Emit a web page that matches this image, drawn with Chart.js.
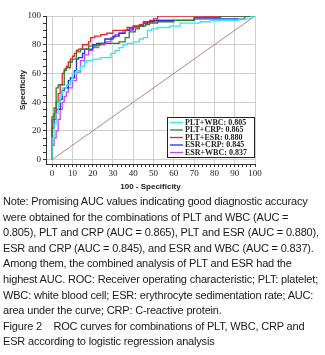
<!DOCTYPE html>
<html>
<head>
<meta charset="utf-8">
<script src="https://cdn.jsdelivr.net/npm/chart.js"></script>
<style>
  html, body { margin: 0; padding: 0; background: #fff; }
  body { width: 325px; height: 355px; position: relative; overflow: hidden; }
  #roc { position: absolute; left: 0; top: 0; }
  .note {
    position: absolute; left: 3px; top: 194px;
    font-family: 'Liberation Sans', Arial, sans-serif;
    font-size: 11px; line-height: 15.6px; color: #1a1a1a;
    white-space: pre;
  }
</style>
</head>
<body>
<canvas id="roc" width="325" height="195"></canvas>
<div class="note" id="note"></div>
<script>
// ROC curves (x = 100 - specificity, y = sensitivity)
const seriesNames = ['PLT+WBC', 'PLT+CRP', 'PLT+ESR', 'ESR+CRP', 'ESR+WBC'];
const aucValues = ['0.805', '0.865', '0.880', '0.845', '0.837'];
const seriesColors = ['#3fe3e6', '#2f7f2f', '#e8232b', '#2a2ae0', '#c846f2'];

const pltWbcX = [0, 0, 1, 2, 3, 4, 5, 7, 9, 10, 12, 14, 16, 17, 20, 24, 29, 31, 33, 35, 37, 40, 43, 45, 47, 49, 52, 58, 63, 73, 78, 92, 98, 100];
const pltWbcY = [0, 8, 15, 25, 32, 40, 45, 50, 52, 55, 60, 62, 65, 68, 69, 70, 71, 74, 76, 78, 80, 81, 82, 84, 85, 90, 91, 92, 93, 95, 96, 97, 98, 100];

const pltCrpX = [0, 0, 1, 2, 3, 6, 7, 9, 10, 12, 14, 18, 22, 24, 33, 36, 38, 41, 43, 46, 48, 52, 60, 70, 83, 98, 100];
const pltCrpY = [0, 20, 30, 36, 50, 52, 62, 64, 68, 70, 75, 77, 79, 80, 81, 82, 85, 89, 91, 93, 94, 95, 96, 97, 99, 100, 100];

const pltEsrX = [0, 0, 1, 2, 3, 4, 5, 6, 7, 8, 9, 10, 11, 12, 13, 15, 18, 19, 21, 24, 27, 30, 37, 40, 43, 45, 48, 50, 52, 78, 100];
const pltEsrY = [0, 15, 28, 32, 40, 46, 52, 60, 63, 65, 68, 70, 72, 74, 76, 77, 80, 82, 85, 86, 87, 88, 90, 92, 93, 94, 96, 97, 98, 100, 100];

const esrCrpX = [0, 0, 1, 2, 4, 5, 6, 8, 9, 11, 12, 13, 15, 16, 20, 22, 26, 30, 33, 36, 38, 40, 45, 47, 50, 70, 95, 97, 100];
const esrCrpY = [0, 10, 22, 28, 35, 42, 48, 50, 55, 57, 62, 70, 71, 74, 77, 80, 81, 84, 86, 88, 90, 91, 93, 95, 96, 97, 98, 100, 100];

const esrWbcX = [0, 0, 1, 2, 3, 4, 5, 6, 7, 8, 10, 12, 14, 16, 18, 20, 23, 26, 29, 31, 33, 35, 40, 43, 45, 48, 52, 70, 75, 78, 100];
const esrWbcY = [0, 5, 10, 15, 20, 28, 35, 40, 44, 47, 50, 55, 61, 69, 73, 76, 78, 80, 82, 85, 87, 88, 90, 92, 93, 95, 96, 97, 99, 100, 100];

const xTickValues = [];
for (let v = 0; v <= 100; v += 2) xTickValues.push(v);
const yTickValues = [];
for (let v = 0; v <= 100; v += 5) yTickValues.push(v);

const noteLines = [
  'Note: Promising AUC values indicating good diagnostic accuracy',
  'were obtained for the combinations of PLT and WBC (AUC =',
  '0.805), PLT and CRP (AUC = 0.865), PLT and ESR (AUC = 0.880),',
  'ESR and CRP (AUC = 0.845), and ESR and WBC (AUC = 0.837).',
  'Among them, the combined analysis of PLT and ESR had the',
  'highest AUC. ROC: Receiver operating characteristic; PLT: platelet;',
  'WBC: white blood cell; ESR: erythrocyte sedimentation rate; AUC:',
  'area under the curve; CRP: C-reactive protein.',
  'Figure 2    ROC curves for combinations of PLT, WBC, CRP and',
  'ESR according to logistic regression analysis'
];

// the printed note is set tighter than plain Arial; squeeze it to the
// width of its longest line in the figure (~315px)
const note = document.getElementById('note');
note.textContent = noteLines.join('\n');
const widest = noteLines[5];
const probe = document.createElement('span');
probe.style.cssText = 'position:absolute;visibility:hidden;white-space:pre;font:11px "Liberation Sans", Arial, sans-serif';
probe.textContent = widest;
document.body.appendChild(probe);
const spacing = (315 - probe.getBoundingClientRect().width) / widest.length;
probe.remove();
note.style.letterSpacing = spacing.toFixed(3) + 'px';

const toPoints = (xs, ys) => xs.map((x, i) => ({ x: x, y: ys[i] }));
const curveXs = [pltWbcX, pltCrpX, pltEsrX, esrCrpX, esrWbcX];
const curveYs = [pltWbcY, pltCrpY, pltEsrY, esrCrpY, esrWbcY];

const datasets = seriesNames.map((name, i) => ({
  label: name + ': ' + aucValues[i],
  data: toPoints(curveXs[i], curveYs[i]),
  borderColor: seriesColors[i],
  borderWidth: 1.3,
  pointRadius: 0,
  stepped: 'after',
  fill: false
}));
datasets.push({
  label: 'reference',
  data: [{ x: 0, y: 0 }, { x: 100, y: 100 }],
  borderColor: '#b88383',
  borderWidth: 1,
  pointRadius: 0
});

// legend box in the lower right corner of the plot
const boxLegend = {
  id: 'boxLegend',
  afterDatasetsDraw(chart) {
    const ctx = chart.ctx;
    const area = chart.chartArea;
    const w = 87, h = 40;
    const left = area.right - w - 1;
    const top = area.bottom - h - 7;
    ctx.save();
    ctx.fillStyle = '#fff';
    ctx.fillRect(left, top, w, h);
    ctx.strokeStyle = '#222';
    ctx.lineWidth = 1;
    ctx.strokeRect(left + 0.5, top + 0.5, w, h);
    ctx.font = 'bold 8px "Liberation Serif", serif';
    ctx.textBaseline = 'middle';
    seriesNames.forEach((name, i) => {
      const y = top + 5.5 + i * 7.5;
      ctx.strokeStyle = seriesColors[i];
      ctx.lineWidth = 1.3;
      ctx.beginPath();
      ctx.moveTo(left + 3, y);
      ctx.lineTo(left + 16, y);
      ctx.stroke();
      ctx.fillStyle = '#222';
      ctx.fillText(name + ': ' + aucValues[i], left + 18, y);
    });
    ctx.restore();
  }
};

const tickFont = { family: '"Liberation Serif", serif', size: 9 };
const titleFont = { family: '"Liberation Sans", Arial, sans-serif', size: 8, weight: 'bold' };

new Chart(document.getElementById('roc'), {
  type: 'line',
  data: { datasets: datasets },
  plugins: [boxLegend],
  options: {
    responsive: false,
    animation: false,
    layout: { padding: { top: 16, right: 70, left: 0, bottom: 0 } },
    plugins: { legend: { display: false }, tooltip: { enabled: false } },
    scales: {
      x: {
        type: 'linear', min: -3, max: 100,
        afterBuildTicks: s => { s.ticks = xTickValues.map(v => ({ value: v })); },
        afterFit: s => { s.height = 31; },
        grid: {
          color: c => (c.tick && c.tick.value % 10 === 0) ? '#cfcfcf' : 'rgba(0,0,0,0)',
          tickColor: '#333', tickLength: 3
        },
        border: { color: '#333', width: 1 },
        ticks: {
          autoSkip: false, maxRotation: 0, padding: 1, color: '#222', font: tickFont,
          callback: v => v % 10 === 0 ? String(v) : ''
        },
        title: { display: true, text: '100 - Specificity', color: '#222', font: titleFont, padding: { top: 1, bottom: 3 } }
      },
      y: {
        type: 'linear', min: -3, max: 100,
        afterBuildTicks: s => { s.ticks = yTickValues.map(v => ({ value: v })); },
        afterFit: s => { s.width = 46; },
        grid: {
          color: c => (c.tick && c.tick.value % 20 === 0) ? '#cfcfcf' : 'rgba(0,0,0,0)',
          tickColor: '#333', tickLength: 3
        },
        border: { color: '#333', width: 1 },
        ticks: {
          autoSkip: false, padding: 2, color: '#222', font: tickFont,
          callback: v => v % 20 === 0 ? String(v) : ''
        },
        title: { display: true, text: 'Specificity', color: '#222', font: titleFont, padding: { top: 18, bottom: 0 } }
      }
    }
  }
});
</script>
</body>
</html>
